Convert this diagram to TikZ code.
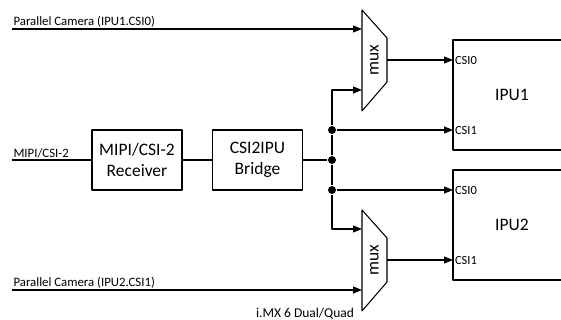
\documentclass[tikz,border=0pt]{standalone}
\usepackage{fontspec}
\setmainfont{Carlito}
\usetikzlibrary{arrows.meta}

\begin{document}
\begin{tikzpicture}[x=1pt,y=-1pt,line join=round,line width=1.05pt,
    >={Triangle[length=9pt,width=7pt]},
    block/.style={draw,minimum width=90pt,minimum height=60pt,align=center,
      font=\fontsize{17.5}{21.5}\selectfont},
    ipu/.style={draw,minimum width=118pt,minimum height=110pt,
      font=\fontsize{17.5}{20}\selectfont},
    port/.style={anchor=west,inner sep=1.5pt,font=\fontsize{12.5}{14}\selectfont},
    sig/.style={anchor=south west,inner sep=1pt,font=\fontsize{12.8}{14}\selectfont},
    dot/.style={circle,fill,inner sep=0pt,minimum size=8pt}]
    \useasboundingbox (0,0) rectangle (561,320);

    % receiver and bridge
    \node[block] (rx) at (137,160) {MIPI/CSI-2\\Receiver};
    \node[block] (br) at (257.5,160) {CSI2IPU\\Bridge};

    % IPUs
    \node[ipu] (ipu1) at (512,95) {IPU1};
    \node[ipu] (ipu2) at (512,225) {IPU2};
    \coordinate (i1a) at (453,60);
    \coordinate (i1b) at (453,130);
    \coordinate (i2a) at (453,190);
    \coordinate (i2b) at (453,260);
    \node[port] (l1a) at (i1a) {CSI0};
    \node[port] (l1b) at (i1b) {CSI1};
    \node[port] (l2a) at (i2a) {CSI0};
    \node[port] (l2b) at (i2b) {CSI1};

    % muxes
    \begin{scope}[shift={(362,10)}]
      \draw (0,0)--(25,28)--(25,72)--(0,101)--cycle;
      \coordinate (m1a) at (0,19);
      \coordinate (m1b) at (0,80);
      \coordinate (m1out) at (25,50);
      \node[rotate=90,font=\fontsize{17.5}{20}\selectfont] (mux1) at (12.5,50) {mux};
    \end{scope}

    \begin{scope}[shift={(362,210)}]
      \draw (0,0)--(25,28)--(25,72)--(0,101)--cycle;
      \coordinate (m2a) at (0,19);
      \coordinate (m2b) at (0,80);
      \coordinate (m2out) at (25,50);
      \node[rotate=90,font=\fontsize{17.5}{20}\selectfont] (mux2) at (12.5,50) {mux};
    \end{scope}

    % inputs
    \coordinate (pc1) at (12,29);
    \coordinate (mipi) at (12,160);
    \coordinate (pc2) at (12,290);
    \node[sig] (lpc1) at (pc1) {Parallel Camera (IPU1.CSI0)};
    \node[sig] (lmipi) at (mipi) {MIPI/CSI-2};
    \node[sig] (lpc2) at (pc2) {Parallel Camera (IPU2.CSI1)};

    % junctions
    \node[dot] (j1) at (332,130) {};
    \node[dot] (j2) at (332,160) {};
    \node[dot] (j3) at (332,190) {};

    % wires
    \draw[->] (pc1) -- (m1a);
    \draw[->] (pc2) -- (m2b);
    \draw (mipi) -- (rx);
    \draw (rx) -- (br);
    \draw (br) -- (j2);
    \draw (j2) -- (j1);
    \draw[->] (j1) |- (m1b);
    \draw[->] (j1) -- (i1b);
    \draw (j2) -- (j3);
    \draw[->] (j3) -- (i2a);
    \draw[->] (j3) |- (m2a);
    \draw[->] (m1out) -- (i1a);
    \draw[->] (m2out) -- (i2b);

    \node[font=\fontsize{13.5}{15}\selectfont] (cap) at (305,314) {i.MX 6 Dual/Quad};
  \end{tikzpicture}
\end{document}
